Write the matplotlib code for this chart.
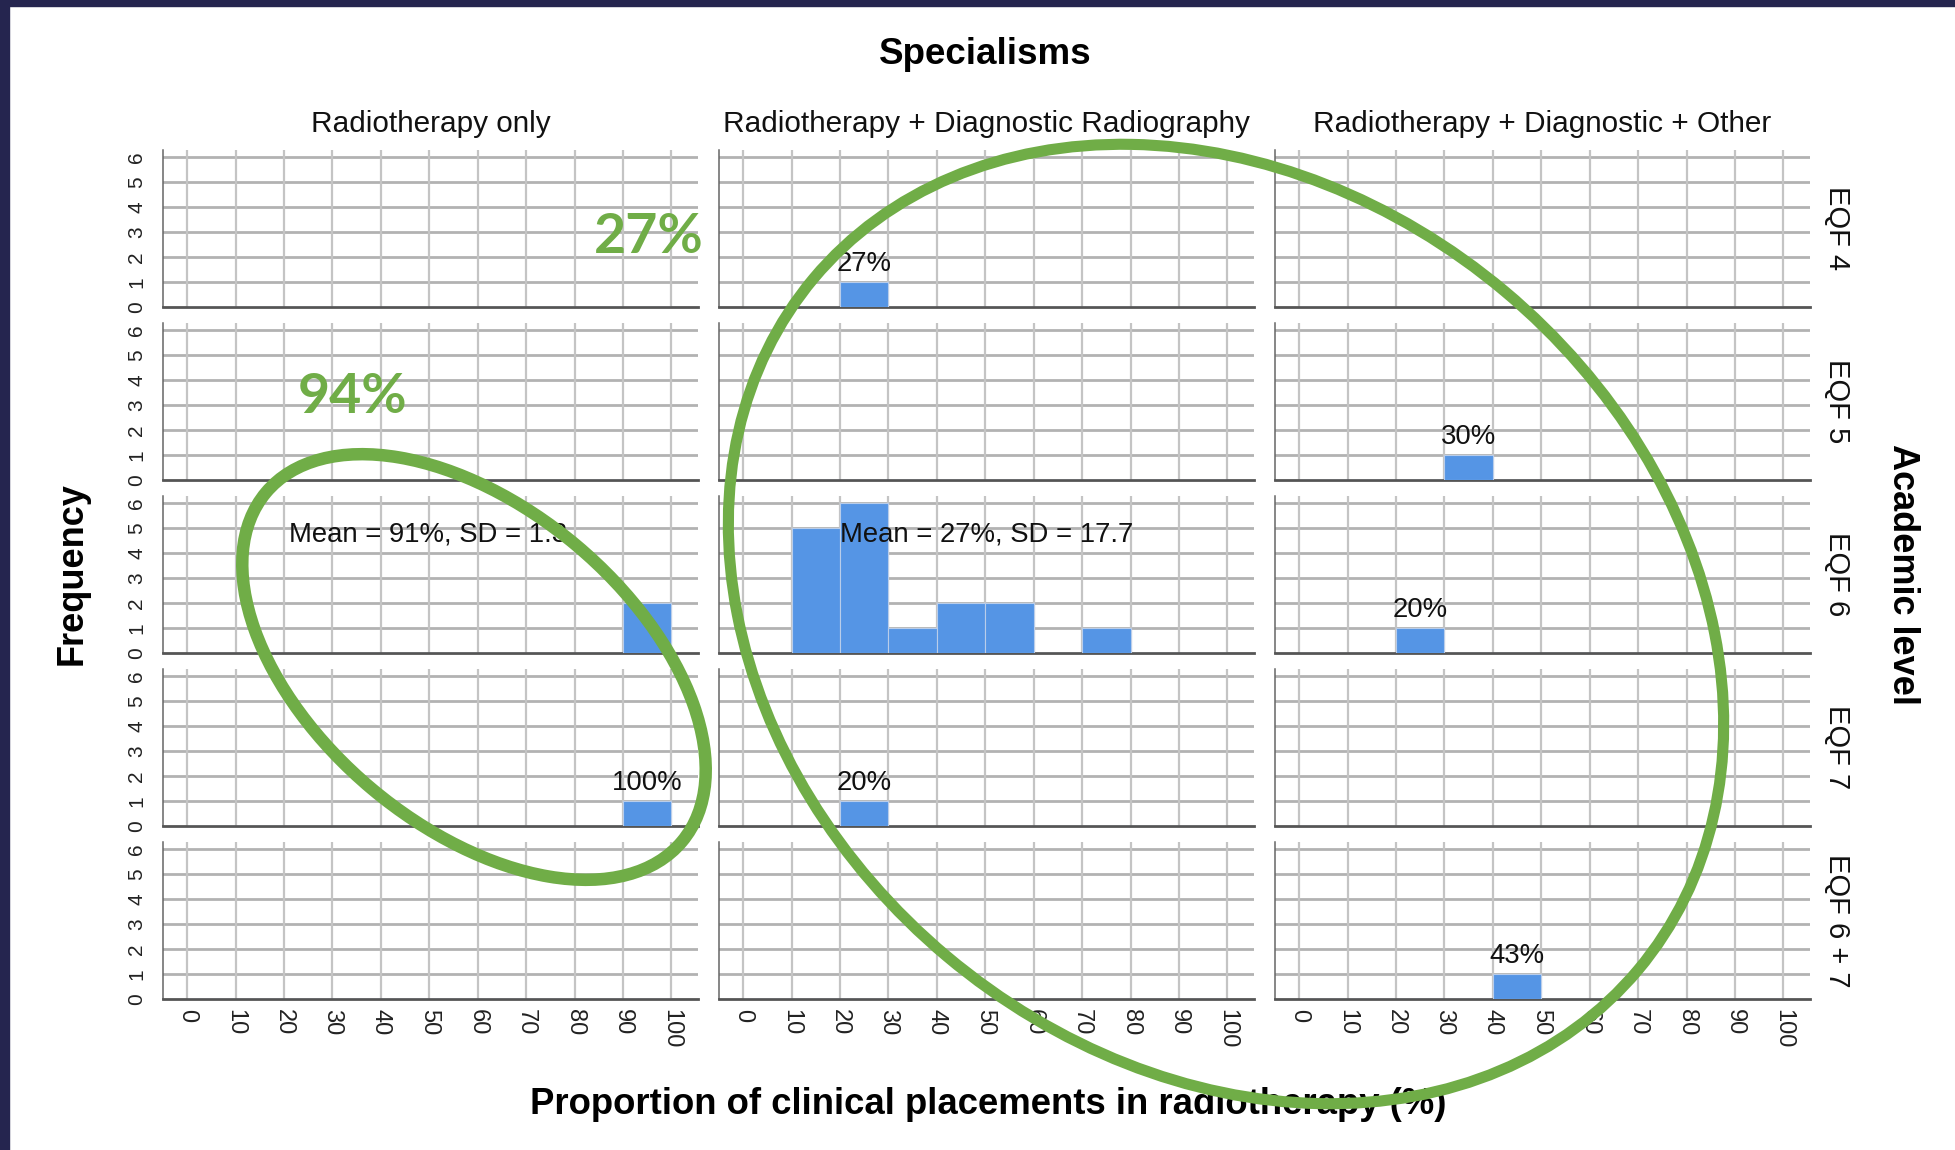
import numpy as np
import matplotlib
matplotlib.use("Agg")
import matplotlib.pyplot as plt
from matplotlib.patches import Ellipse, Rectangle
from matplotlib.transforms import IdentityTransform

plt.rcParams['font.family'] = ['Liberation Sans', 'DejaVu Sans']

# data
specialisms = ["Radiotherapy only", "Radiotherapy + Diagnostic Radiography",
               "Radiotherapy + Diagnostic + Other"]
levels = ["EQF 4", "EQF 5", "EQF 6", "EQF 7", "EQF 6 + 7"]
bin_left = np.arange(0, 100, 10)

# counts per 10% bin, one row per academic level
rt_only = [[0, 0, 0, 0, 0, 0, 0, 0, 0, 0],
           [0, 0, 0, 0, 0, 0, 0, 0, 0, 0],
           [0, 0, 0, 0, 0, 0, 0, 0, 0, 2],
           [0, 0, 0, 0, 0, 0, 0, 0, 0, 1],
           [0, 0, 0, 0, 0, 0, 0, 0, 0, 0]]
rt_diag = [[0, 0, 1, 0, 0, 0, 0, 0, 0, 0],
           [0, 0, 0, 0, 0, 0, 0, 0, 0, 0],
           [0, 5, 6, 1, 2, 2, 0, 1, 0, 0],
           [0, 0, 1, 0, 0, 0, 0, 0, 0, 0],
           [0, 0, 0, 0, 0, 0, 0, 0, 0, 0]]
rt_diag_other = [[0, 0, 0, 0, 0, 0, 0, 0, 0, 0],
                 [0, 0, 0, 1, 0, 0, 0, 0, 0, 0],
                 [0, 0, 1, 0, 0, 0, 0, 0, 0, 0],
                 [0, 0, 0, 0, 0, 0, 0, 0, 0, 0],
                 [0, 0, 0, 0, 1, 0, 0, 0, 0, 0]]
all_counts = [rt_only, rt_diag, rt_diag_other]

# text shown over single bars (row, col, label)
bar_labels = [(3, 0, "100%"), (0, 1, "27%"), (3, 1, "20%"),
              (1, 2, "30%"), (2, 2, "20%"), (4, 2, "43%")]
# summary text (row, col, x, label)
mean_labels = [(2, 0, 21, "Mean = 91%, SD = 1.3"),
               (2, 1, 20, "Mean = 27%, SD = 17.7")]

bar_col = '#5595e5'
green = '#70ad47'

fig, axes = plt.subplots(5, 3, figsize=(19.56, 11.5), dpi=100)
fig.subplots_adjust(left=0.0833, right=0.9254, top=0.8696, bottom=0.1313,
                    wspace=0.039, hspace=0.102)

for c in range(3):
    for r in range(5):
        ax = axes[r, c]
        ax.bar(bin_left, all_counts[c][r], width=10, align='edge',
               color=bar_col, edgecolor='#b9cdea', linewidth=0.8, zorder=3)
        ax.set_xlim(-5, 105.5)
        ax.set_ylim(0, 6.28)
        ax.set_xticks(np.arange(0, 101, 10))
        ax.set_yticks(np.arange(0, 7))
        for y in range(1, 7):
            ax.axhline(y, color='#b2b2b2', lw=2.0, zorder=1)
        for x in range(0, 101, 10):
            ax.axvline(x, color='#c4c4c4', lw=1.6, zorder=1)
        ax.grid(False)
        for s in ['top', 'right']:
            ax.spines[s].set_visible(False)
        ax.spines['bottom'].set_color('#555555')
        ax.spines['bottom'].set_linewidth(2.0)
        ax.spines['left'].set_color('#666666')
        ax.spines['left'].set_linewidth(1.1)
        ax.tick_params(length=0, labelsize=15, colors='#222222')
        if c == 0:
            ax.tick_params(axis='y', pad=12)
            for t in ax.get_yticklabels():
                t.set_rotation(90)
                t.set_va('center')
        else:
            ax.set_yticklabels([])
        if r == 4:
            ax.tick_params(axis='x', pad=7, labelsize=17)
            for t in ax.get_xticklabels():
                t.set_rotation(-90)
                t.set_va('top')
        else:
            ax.set_xticklabels([])
        if r == 0:
            ax.set_title(specialisms[c], fontsize=21.4, pad=13, color='#111111')
        if c == 2:
            ax.text(1.051, 0.5, levels[r], transform=ax.transAxes, rotation=-90,
                    ha='center', va='center', fontsize=21, color='#111111')

for r, c, lab in bar_labels:
    ax = axes[r, c]
    cnt = all_counts[c][r]
    i = int(np.argmax(cnt))
    ax.text(bin_left[i] + 5, cnt[i] + 0.2, lab, ha='center', va='bottom',
            fontsize=19.8, color='#111111', zorder=5)

for r, c, x, lab in mean_labels:
    axes[r, c].text(x, 4.75, lab, ha='left', va='center', fontsize=19.8,
                    color='#111111', zorder=5)

fig.text(0.5036, 1 - 55 / 1150, "Specialisms", ha='center', va='center',
         fontsize=26.5, fontweight='bold')
fig.text(0.505, 1 - 1104 / 1150, "Proportion of clinical placements in radiotherapy (%)",
         ha='center', va='center', fontsize=26.3, fontweight='bold')
fig.text(72 / 1956, 1 - 574 / 1150, "Frequency", ha='center', va='center',
         rotation=90, fontsize=26, fontweight='bold')
fig.text(1903 / 1956, 1 - 574 / 1150, "Academic level", ha='center', va='center',
         rotation=-90, fontsize=26, fontweight='bold')

# green annotations on top
fig.text(649 / 1956, 1 - 237 / 1150, "27%", ha='center', va='center', color=green,
         fontsize=40, fontweight='bold', family=['Lato', 'DejaVu Sans'], zorder=10)
fig.text(353 / 1956, 1 - 397 / 1150, "94%", ha='center', va='center', color=green,
         fontsize=40, fontweight='bold', family=['Lato', 'DejaVu Sans'], zorder=10)
fig.add_artist(Ellipse((474, 1150 - 667), 543, 318, angle=-40, fill=False,
                       edgecolor=green, lw=9, transform=IdentityTransform(), zorder=10))
fig.add_artist(Ellipse((1226, 1150 - 624), 1076, 868, angle=-40, fill=False,
                       edgecolor=green, lw=8, transform=IdentityTransform(), zorder=10))

# dark frame at top and left
fig.add_artist(Rectangle((0, 1150 - 6), 1956, 6, color='#25254f',
                         transform=IdentityTransform(), zorder=11))
fig.add_artist(Rectangle((0, 0), 9, 1150, color='#25254f',
                         transform=IdentityTransform(), zorder=11))

fig.savefig("out.png", dpi=100)
